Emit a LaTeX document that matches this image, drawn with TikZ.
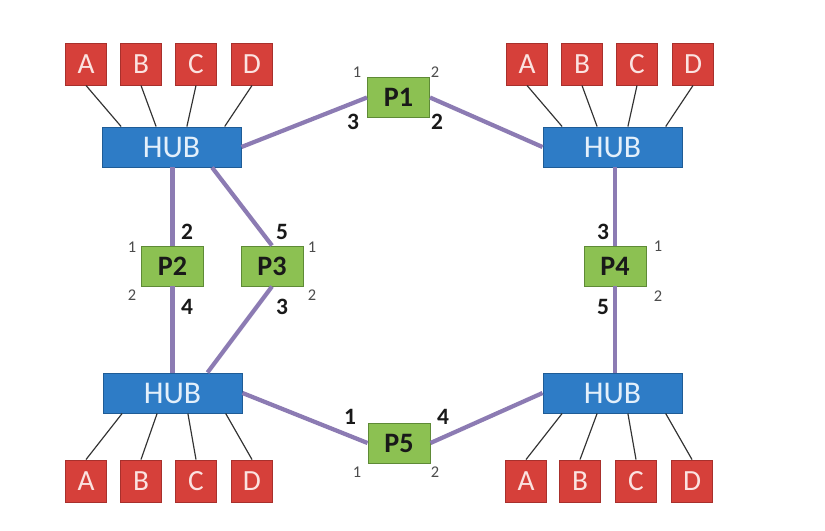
\documentclass[tikz,border=0pt]{standalone}
\usepackage{fontspec}
\setmainfont{Carlito}
\usetikzlibrary{calc}
\definecolor{boxred}{HTML}{D6403A}
\definecolor{reddraw}{HTML}{A8302C}
\definecolor{redtext}{HTML}{FBE3E1}
\definecolor{hubblue}{HTML}{2E7CC6}
\definecolor{hubdraw}{HTML}{1F5C96}
\definecolor{hubtext}{HTML}{E4F0FB}
\definecolor{portgreen}{HTML}{8CC152}
\definecolor{portdraw}{HTML}{5E8A36}
\definecolor{linkpurple}{HTML}{8C7BB3}
\tikzset{
  dev/.style={draw=reddraw, fill=boxred, line width=0.8pt, minimum width=1.23cm, minimum height=1.26cm, inner sep=0pt, text=redtext, font=\fontsize{25}{28}\selectfont},
  hub/.style={draw=hubdraw, fill=hubblue, line width=0.8pt, minimum width=4.17cm, minimum height=1.2cm, inner sep=0pt, text=hubtext, font=\fontsize{27}{30}\selectfont},
  port/.style={draw=portdraw, fill=portgreen, line width=0.8pt, minimum width=1.86cm, minimum height=1.2cm, inner sep=0pt, text=black!90, font=\bfseries\fontsize{24}{28}\selectfont},
  plink/.style={draw=linkpurple, line width=3.6pt},
  dlink/.style={draw=black!80, line width=1pt},
  big/.style={font=\bfseries\fontsize{20}{24}\selectfont, text=black!90, inner sep=0pt},
  small/.style={font=\fontsize{14}{16}\selectfont, text=black!70, inner sep=0pt},
}
\begin{document}
\begin{tikzpicture}[x=0.03cm,y=-0.03cm]
\useasboundingbox[fill=white] (0,0) rectangle (825,530);

% hubs
\node[hub] (hubTL) at (171.5,147) {HUB};
\node[hub] (hubTR) at (612.5,147) {HUB};
\node[hub] (hubBL) at (172.5,393) {HUB};
\node[hub] (hubBR) at (612.5,393) {HUB};

% ports
\node[port] (P1) at (398.5,97.5) {P1};
\node[port] (P2) at (172.5,266) {P2};
\node[port] (P3) at (272,266) {P3};
\node[port] (P4) at (615,266) {P4};
\node[port] (P5) at (399,443) {P5};

% devices
\foreach \n/\x in {A/86,B/141,C/196,D/252}
  \node[dev] (tl\n) at (\x,64) {\n};
\foreach \n/\x in {A/527,B/582,C/637,D/693}
  \node[dev] (tr\n) at (\x,64) {\n};
\foreach \n/\x in {A/86,B/141,C/196,D/252}
  \node[dev] (bl\n) at (\x,481) {\n};
\foreach \n/\x in {A/526,B/580,C/636,D/692}
  \node[dev] (br\n) at (\x,481) {\n};

% device links
\foreach \n/\f in {A/0.14,B/0.39,C/0.61,D/0.88}{
  \draw[dlink] (tl\n.south) -- ($(hubTL.north west)!\f!(hubTL.north east)$);
  \draw[dlink] (tr\n.south) -- ($(hubTR.north west)!\f!(hubTR.north east)$);
  \draw[dlink] (bl\n.north) -- ($(hubBL.south west)!\f!(hubBL.south east)$);
  \draw[dlink] (br\n.north) -- ($(hubBR.south west)!\f!(hubBR.south east)$);
}

% hub links
\draw[plink] (hubTL.east) -- (P1.west);
\draw[plink] (P1.east) -- (hubTR.west);
\draw[plink] (P2.north) -- (P2.north |- hubTL.south);
\draw[plink] (P2.south) -- (P2.south |- hubBL.north);
\draw[plink] ($(hubTL.south west)!0.79!(hubTL.south east)$) -- (P3.north);
\draw[plink] (P3.south) -- ($(hubBL.north west)!0.75!(hubBL.north east)$);
\draw[plink] (P4.north) -- (P4.north |- hubTR.south);
\draw[plink] (P4.south) -- (P4.south |- hubBR.north);
\draw[plink] (hubBL.east) -- (P5.west);
\draw[plink] (P5.east) -- (hubBR.west);

% port labels
\node[small] (p1a) at (357,72) {1};
\node[small] (p1b) at (435,72) {2};
\node[big] (p1c) at (353,122) {3};
\node[big] (p1d) at (437,122) {2};

\node[big] (p2a) at (187,232) {2};
\node[big] (p2b) at (187,307) {4};
\node[small] (p2c) at (132,247) {1};
\node[small] (p2d) at (132,295) {2};

\node[big] (p3a) at (282,232) {5};
\node[big] (p3b) at (282,307) {3};
\node[small] (p3c) at (312,247) {1};
\node[small] (p3d) at (312,295) {2};

\node[big] (p4a) at (603,232) {3};
\node[big] (p4b) at (603,307) {5};
\node[small] (p4c) at (658,246) {1};
\node[small] (p4d) at (658,296) {2};

\node[big] (p5a) at (350,417) {1};
\node[big] (p5b) at (443,417) {4};
\node[small] (p5c) at (357,472) {1};
\node[small] (p5d) at (435,472) {2};
\end{tikzpicture}
\end{document}
